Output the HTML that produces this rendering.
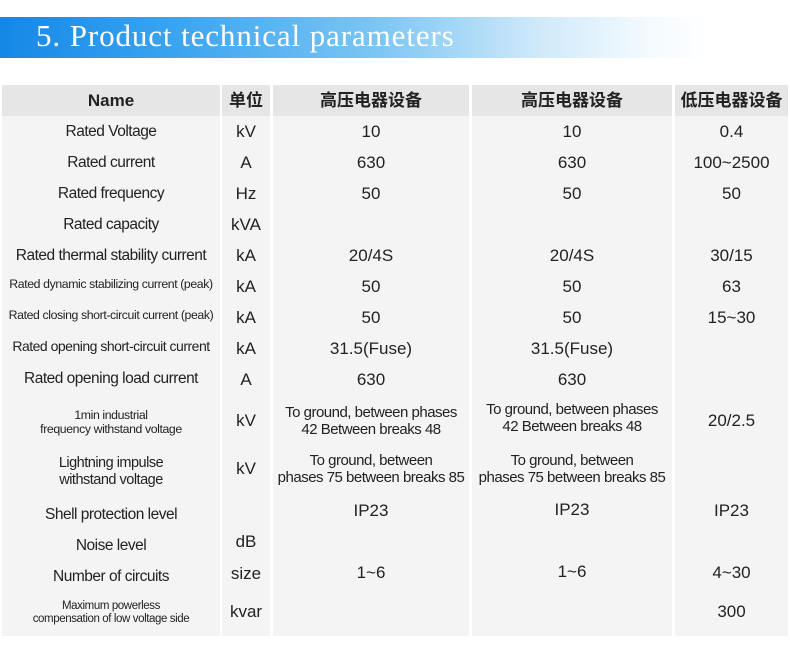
<!DOCTYPE html>
<html><head><meta charset="utf-8"><style>
html,body{margin:0;padding:0;background:#fff;}
body{width:790px;height:650px;position:relative;overflow:hidden;font-family:"Liberation Sans","Noto Sans CJK SC",sans-serif;color:#222;}
.banner{position:absolute;left:0;top:17px;width:790px;height:41px;background:linear-gradient(90deg,#1587e6 0%,#3aa4f0 22%,#7cc6f4 48%,#cfe9fa 68%,#f4fafe 82%,#fff 90%);}
.title{position:absolute;left:36px;top:18px;font-family:"Liberation Serif",serif;font-size:31px;color:#fff;letter-spacing:0.9px;white-space:nowrap;}
.col{position:absolute;top:85px;height:551px;background:#f4f4f4;}
.hd{position:absolute;top:85px;height:31px;background:#e6e6e6;}
.c{position:absolute;display:flex;align-items:center;justify-content:center;text-align:center;line-height:1.15;white-space:nowrap;}
.n{font-size:15.5px;letter-spacing:-0.5px;}
.s{font-size:12.3px;letter-spacing:-0.4px;}
.v{font-size:17px;}
.t{font-size:15px;letter-spacing:-0.5px;}
.h{font-size:17px;font-weight:bold;}
</style></head><body>
<div class="banner"></div>
<div class="title">5. Product technical parameters</div>

<div class="col" style="left:2px;width:218px"></div>
<div class="col" style="left:222px;width:48px"></div>
<div class="col" style="left:273px;width:196px"></div>
<div class="col" style="left:472px;width:200px"></div>
<div class="col" style="left:675px;width:113px"></div>
<div class="hd" style="left:2px;width:218px"></div>
<div class="hd" style="left:222px;width:48px"></div>
<div class="hd" style="left:273px;width:196px"></div>
<div class="hd" style="left:472px;width:200px"></div>
<div class="hd" style="left:675px;width:113px"></div>

<div class="c h" style="left:2px;width:218px;top:85px;height:31px">Name</div>
<div class="c h" style="left:222px;width:48px;top:85px;height:31px">单位</div>
<div class="c h" style="left:273px;width:196px;top:85px;height:31px">高压电器设备</div>
<div class="c h" style="left:472px;width:200px;top:85px;height:31px">高压电器设备</div>
<div class="c h" style="left:675px;width:113px;top:85px;height:31px">低压电器设备</div>

<div class="c n" style="left:2px;width:218px;top:116px;height:31px">Rated Voltage</div>
<div class="c v" style="left:222px;width:48px;top:116px;height:31px">kV</div>
<div class="c v" style="left:273px;width:196px;top:116px;height:31px">10</div>
<div class="c v" style="left:472px;width:200px;top:116px;height:31px">10</div>
<div class="c v" style="left:675px;width:113px;top:116px;height:31px">0.4</div>

<div class="c n" style="left:2px;width:218px;top:147px;height:31px">Rated current</div>
<div class="c v" style="left:222px;width:48px;top:147px;height:31px">A</div>
<div class="c v" style="left:273px;width:196px;top:147px;height:31px">630</div>
<div class="c v" style="left:472px;width:200px;top:147px;height:31px">630</div>
<div class="c v" style="left:675px;width:113px;top:147px;height:31px">100~2500</div>

<div class="c n" style="left:2px;width:218px;top:178px;height:31px">Rated frequency</div>
<div class="c v" style="left:222px;width:48px;top:178px;height:31px">Hz</div>
<div class="c v" style="left:273px;width:196px;top:178px;height:31px">50</div>
<div class="c v" style="left:472px;width:200px;top:178px;height:31px">50</div>
<div class="c v" style="left:675px;width:113px;top:178px;height:31px">50</div>

<div class="c n" style="left:2px;width:218px;top:209px;height:31px">Rated capacity</div>
<div class="c v" style="left:222px;width:48px;top:209px;height:31px">kVA</div>

<div class="c n" style="left:2px;width:218px;top:240px;height:31px">Rated thermal stability current</div>
<div class="c v" style="left:222px;width:48px;top:240px;height:31px">kA</div>
<div class="c v" style="left:273px;width:196px;top:240px;height:31px">20/4S</div>
<div class="c v" style="left:472px;width:200px;top:240px;height:31px">20/4S</div>
<div class="c v" style="left:675px;width:113px;top:240px;height:31px">30/15</div>

<div class="c s" style="left:2px;width:218px;top:271px;height:27px">Rated dynamic stabilizing current (peak)</div>
<div class="c v" style="left:222px;width:48px;top:271px;height:31px">kA</div>
<div class="c v" style="left:273px;width:196px;top:271px;height:31px">50</div>
<div class="c v" style="left:472px;width:200px;top:271px;height:31px">50</div>
<div class="c v" style="left:675px;width:113px;top:271px;height:31px">63</div>

<div class="c s" style="left:2px;width:218px;top:302px;height:27px">Rated closing short-circuit current (peak)</div>
<div class="c v" style="left:222px;width:48px;top:302px;height:31px">kA</div>
<div class="c v" style="left:273px;width:196px;top:302px;height:31px">50</div>
<div class="c v" style="left:472px;width:200px;top:302px;height:31px">50</div>
<div class="c v" style="left:675px;width:113px;top:302px;height:31px">15~30</div>

<div class="c" style="left:2px;width:218px;top:333px;height:27px;font-size:14px;letter-spacing:-0.5px">Rated opening short-circuit current</div>
<div class="c v" style="left:222px;width:48px;top:333px;height:31px">kA</div>
<div class="c v" style="left:273px;width:196px;top:333px;height:31px">31.5(Fuse)</div>
<div class="c v" style="left:472px;width:200px;top:333px;height:31px">31.5(Fuse)</div>

<div class="c n" style="left:2px;width:218px;top:364px;height:29px">Rated opening load current</div>
<div class="c v" style="left:222px;width:48px;top:364px;height:31px">A</div>
<div class="c v" style="left:273px;width:196px;top:364px;height:31px">630</div>
<div class="c v" style="left:472px;width:200px;top:364px;height:31px">630</div>

<div class="c s" style="left:2px;width:218px;top:399px;height:46px">1min industrial<br>frequency withstand voltage</div>
<div class="c v" style="left:222px;width:48px;top:395px;height:52px">kV</div>
<div class="c t" style="left:273px;width:196px;top:395px;height:52px">To ground, between phases<br>42 Between breaks 48</div>
<div class="c t" style="left:472px;width:200px;top:392px;height:52px">To ground, between phases<br>42 Between breaks 48</div>
<div class="c v" style="left:675px;width:113px;top:395px;height:52px">20/2.5</div>

<div class="c" style="left:2px;width:218px;top:448px;height:48px;font-size:14.5px;letter-spacing:-0.5px">Lightning impulse<br>withstand voltage</div>
<div class="c v" style="left:222px;width:48px;top:445px;height:48px">kV</div>
<div class="c t" style="left:273px;width:196px;top:445px;height:48px">To ground, between<br>phases 75 between breaks 85</div>
<div class="c t" style="left:472px;width:200px;top:445px;height:48px">To ground, between<br>phases 75 between breaks 85</div>

<div class="c n" style="left:2px;width:218px;top:498px;height:33px">Shell protection level</div>
<div class="c v" style="left:273px;width:196px;top:495px;height:31px">IP23</div>
<div class="c v" style="left:472px;width:200px;top:494px;height:31px">IP23</div>
<div class="c v" style="left:675px;width:113px;top:495px;height:31px">IP23</div>

<div class="c n" style="left:2px;width:218px;top:530px;height:31px">Noise level</div>
<div class="c v" style="left:222px;width:48px;top:526px;height:31px">dB</div>

<div class="c n" style="left:2px;width:218px;top:561px;height:31px">Number of circuits</div>
<div class="c v" style="left:222px;width:48px;top:558px;height:31px">size</div>
<div class="c v" style="left:273px;width:196px;top:557px;height:31px">1~6</div>
<div class="c v" style="left:472px;width:200px;top:556px;height:31px">1~6</div>
<div class="c v" style="left:675px;width:113px;top:557px;height:31px">4~30</div>

<div class="c" style="left:2px;width:218px;top:592px;height:42px;font-size:11.5px;letter-spacing:-0.4px">Maximum powerless<br>compensation of low voltage side</div>
<div class="c v" style="left:222px;width:48px;top:596px;height:31px">kvar</div>
<div class="c v" style="left:675px;width:113px;top:596px;height:31px">300</div>
</body></html>
